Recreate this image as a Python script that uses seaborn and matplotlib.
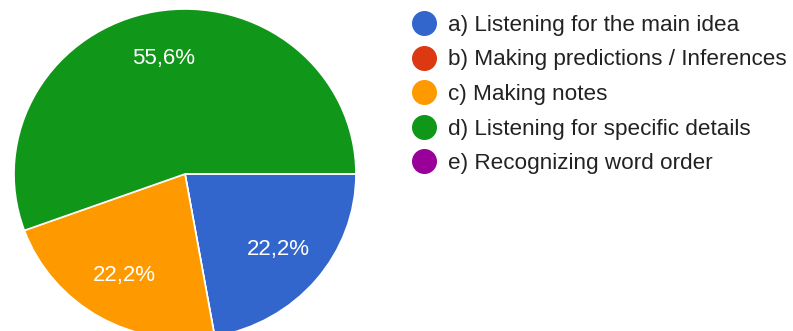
import matplotlib
matplotlib.use("Agg")
import matplotlib.pyplot as plt
from matplotlib.lines import Line2D
import seaborn as sns

# Survey answers: which listening skill is practised most
categories = [
    "a) Listening for the main idea",
    "b) Making predictions / Inferences",
    "c) Making notes",
    "d) Listening for specific details",
    "e) Recognizing word order",
]
responses = [2, 0, 2, 5, 0]
colors = ["#3366cc", "#dc3912", "#ff9900", "#109618", "#990099"]

sns.set_theme(style="white")
plt.rcParams["font.family"] = ["Liberation Sans", "DejaVu Sans"]
palette = sns.color_palette(colors)

fig = plt.figure(figsize=(7.93, 3.31), dpi=100)
ax = fig.add_axes([0, 0, 1, 1])


def pct_label(p):
    if p <= 0:
        return ""
    return f"{p:.1f}%".replace(".", ",")


wedges, texts, autotexts = ax.pie(
    responses,
    colors=palette,
    startangle=0,
    counterclock=False,
    autopct=pct_label,
    pctdistance=0.71,
    wedgeprops=dict(edgecolor="white", linewidth=1.2),
    textprops=dict(color="white", fontsize=16),
)

# stretch the axes so the pie sits on the left, slightly wider than tall
ax.set_aspect("auto")
ax.set_xlim(-1.082, 3.556)
ax.set_ylim(-0.9515, 1.0545)
ax.axis("off")

handles = [
    Line2D([], [], linestyle="none", marker="o", markersize=17,
           markerfacecolor=c, markeredgecolor=c)
    for c in palette
]
leg = fig.legend(
    handles, categories,
    loc="upper left",
    bbox_to_anchor=(413 / 793, 1 - 15 / 331),
    frameon=False,
    fontsize=16.2,
    handlelength=1.0,
    handletextpad=0.55,
    labelspacing=0.6,
    borderaxespad=0,
    borderpad=0,
)
for t in leg.get_texts():
    t.set_color("#222222")

fig.savefig("out.png", dpi=100)
